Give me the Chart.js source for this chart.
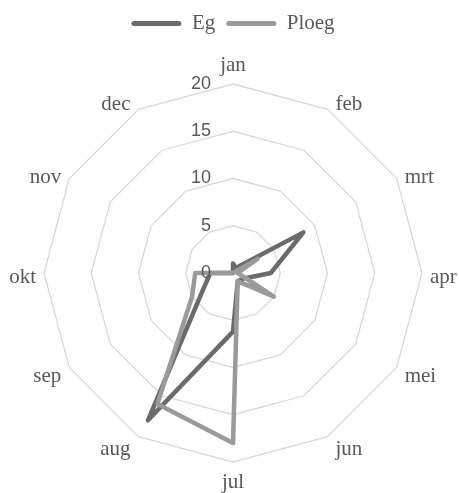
<!DOCTYPE html>
<html>
<head>
<meta charset="utf-8">
<script src="https://cdn.jsdelivr.net/npm/chart.js@4/dist/chart.umd.min.js"></script>
<style>
  html, body { margin: 0; padding: 0; background: #ffffff; }
  #wrap { width: 459px; height: 493px; }
</style>
</head>
<body>
<div id="wrap"><canvas id="c" width="459" height="493"></canvas></div>
<script>
const months = ['jan', 'feb', 'mrt', 'apr', 'mei', 'jun', 'jul', 'aug', 'sep', 'okt', 'nov', 'dec'];
const egValues = [1, 0.6, 8.6, 4, 1.2, 1, 6.2, 18, 3.7, 2.4, 0, 0];
const ploegValues = [0, 0, 3, 0.5, 5, 1, 18, 16, 5, 4, 0, 0];
const tickValues = [0, 5, 10, 15, 20];
const tickLabels = ['0', '5', '10', '15', '20'];

const textColor = '#595959';

const axisTextPlugin = {
  id: 'axisText',
  afterDraw(chart) {
    const s = chart.scales.r;
    const ctx = chart.ctx;
    ctx.save();
    ctx.fillStyle = textColor;
    ctx.font = '18px "Liberation Sans"';
    ctx.textAlign = 'right';
    ctx.textBaseline = 'middle';
    tickValues.forEach((v, i) => {
      const d = s.getDistanceFromCenterForValue(v);
      ctx.fillText(tickLabels[i], s.xCenter - 22, s.yCenter - d);
    });
    ctx.font = '21px "Liberation Serif"';
    const n = months.length;
    months.forEach((m, i) => {
      const deg = Math.round(i * 360 / n);
      const rad = deg * Math.PI / 180;
      if (deg === 0) {
        const p = s.getPointPosition(i, s.drawingArea + 8);
        ctx.textAlign = 'center'; ctx.textBaseline = 'bottom';
        ctx.fillText(m, p.x, p.y);
      } else if (deg === 180) {
        const p = s.getPointPosition(i, s.drawingArea + 10);
        ctx.textAlign = 'center'; ctx.textBaseline = 'top';
        ctx.fillText(m, p.x, p.y);
      } else {
        const v = s.getPointPosition(i, s.drawingArea);
        ctx.textAlign = deg < 180 ? 'left' : 'right';
        ctx.textBaseline = 'middle';
        const x = v.x + (deg < 180 ? 8 : -8);
        const y = v.y - Math.cos(rad) * 10 + 4;
        ctx.fillText(m, x, y);
      }
    });
    ctx.restore();
  }
};

new Chart(document.getElementById('c'), {
  type: 'radar',
  data: {
    labels: months,
    datasets: [
      {
        label: 'Eg',
        data: egValues,
        borderColor: '#6b6b6b',
        backgroundColor: '#6b6b6b',
        borderWidth: 4.5,
        pointRadius: 0,
        pointHoverRadius: 0,
        fill: false,
        borderJoinStyle: 'round',
        borderCapStyle: 'round',
        order: 1
      },
      {
        label: 'Ploeg',
        data: ploegValues,
        borderColor: '#9a9a9a',
        backgroundColor: '#9a9a9a',
        borderWidth: 4.5,
        pointRadius: 0,
        pointHoverRadius: 0,
        fill: false,
        borderJoinStyle: 'round',
        borderCapStyle: 'round',
        order: 0
      }
    ]
  },
  options: {
    responsive: false,
    animation: false,
    devicePixelRatio: 1,
    layout: { padding: { left: 44, right: 37, top: 2, bottom: 0 } },
    plugins: {
      tooltip: { enabled: false },
      legend: {
        display: true,
        position: 'top',
        labels: {
          boxWidth: 50,
          boxHeight: 5,
          padding: 11,
          color: textColor,
          font: { family: '"Liberation Serif"', size: 21 },
          useBorderRadius: true,
          borderRadius: 2.5,
          generateLabels: (chart) => chart.data.datasets.map((ds, i) => ({
            text: ds.label,
            fillStyle: ds.borderColor,
            strokeStyle: ds.borderColor,
            lineWidth: 0,
            borderRadius: 2.5,
            fontColor: textColor,
            hidden: !chart.isDatasetVisible(i),
            datasetIndex: i
          }))
        }
      }
    },
    scales: {
      r: {
        min: 0,
        max: 20,
        startAngle: 0,
        ticks: { stepSize: 5, display: false },
        grid: { color: '#d9d9d9', lineWidth: 1.3, circular: false },
        angleLines: { display: false },
        pointLabels: { display: false },
        afterFit: (s) => { s.yCenter = Math.round(s.bottom - s.drawingArea - 31); }
      }
    }
  },
  plugins: [axisTextPlugin]
});
</script>
</body>
</html>
